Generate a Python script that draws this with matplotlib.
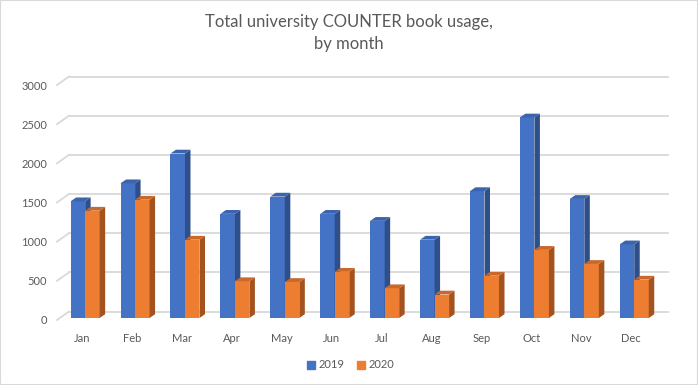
import matplotlib.pyplot as plt
from matplotlib.patches import Polygon, Rectangle
from matplotlib.lines import Line2D

months = ["Jan", "Feb", "Mar", "Apr", "May", "Jun", "Jul", "Aug", "Sep", "Oct", "Nov", "Dec"]
usage2019 = [1490, 1720, 2100, 1330, 1550, 1330, 1240, 1000, 1620, 2560, 1520, 940]
usage2020 = [1370, 1510, 1000, 470, 460, 590, 380, 300, 540, 870, 690, 490]
yticks = [0, 500, 1000, 1500, 2000, 2500, 3000]

plt.rcParams["font.family"] = ["Lato", "DejaVu Sans"]
textColor = "#595959"
gridColor = "#D9D9D9"

W, H = 698, 385
fig = plt.figure(figsize=(W / 100, H / 100), dpi=100)
fig.patches.append(Rectangle((0, 0), 1, 1, transform=fig.transFigure, fill=False,
                             edgecolor=gridColor, lw=1.5))

# front plane of the plot in pixels
left, right, top, bottom = 57, 656, 85, 320
ax = fig.add_axes([left / W, (H - bottom) / H, (right - left) / W, (bottom - top) / H])
ax.set_xlim(-0.5, 11.5)
ax.set_ylim(0, 3000)
for s in ax.spines.values():
    s.set_visible(False)
ax.patch.set_visible(False)

# pixel -> data conversion
xs = 12 / (right - left)
ys = 3000 / (bottom - top)

# back wall gridlines + little diagonals from the tick labels
backDx, backDy = 12 * xs, 8.5 * ys
for v in yticks:
    ax.plot([-0.5 + backDx, 11.5 + backDx], [v + backDy, v + backDy], color=gridColor,
            lw=1.3, clip_on=False, zorder=1)
    ax.plot([-0.5, -0.5 + backDx], [v, v + backDy], color=gridColor, lw=1.3,
            clip_on=False, zorder=1)

ax.set_yticks(yticks)
ax.set_yticklabels([str(v) for v in yticks])
ax.set_xticks(range(len(months)))
ax.set_xticklabels(months)
ax.tick_params(axis="both", length=0, colors=textColor, labelsize=8)
ax.tick_params(axis="y", pad=7)
ax.tick_params(axis="x", pad=9)


def drawBar(x0, x1, val, front, side, cap, z):
    y0 = 2 * ys
    yt = y0 + val
    dx, dy = 5.5 * xs, 3.8 * ys
    ax.add_patch(Polygon([(x0, y0), (x1, y0), (x1, yt), (x0, yt)], closed=True,
                         facecolor=front, edgecolor="none", zorder=z, clip_on=False))
    ax.add_patch(Polygon([(x1, y0), (x1 + dx, y0 + dy), (x1 + dx, yt + dy), (x1, yt)],
                         closed=True, facecolor=side, edgecolor="none", zorder=z,
                         clip_on=False))
    ax.add_patch(Polygon([(x0, yt), (x1, yt), (x1 + dx, yt + dy), (x0 + dx, yt + dy)],
                         closed=True, facecolor=cap, edgecolor="none", zorder=z,
                         clip_on=False))


bw = 14.5 * xs
shift = 3.2 * xs
for i in range(len(months)):
    c = i + shift
    drawBar(c - bw, c, usage2019[i], "#4472C4", "#2E4F8A", "#3A64AE", 3 + i * 2)
    drawBar(c, c + bw, usage2020[i], "#ED7D31", "#A4521E", "#C9682A", 4 + i * 2)

fig.text(349 / W, 1 - 33 / H, "Total university COUNTER book usage,\nby month",
         ha="center", va="center", fontsize=12, color=textColor, linespacing=1.45)

handles = [Line2D([], [], marker="s", ls="", color="#4472C4", markersize=6),
           Line2D([], [], marker="s", ls="", color="#ED7D31", markersize=6)]
leg = fig.legend(handles, ["2019", "2020"], loc="center", ncol=2, frameon=False,
                 bbox_to_anchor=(350 / W, 1 - 365 / H), fontsize=8,
                 handletextpad=0.2, columnspacing=1.0, handlelength=1.0)
for t in leg.get_texts():
    t.set_color(textColor)

fig.savefig("out.png", dpi=100)
